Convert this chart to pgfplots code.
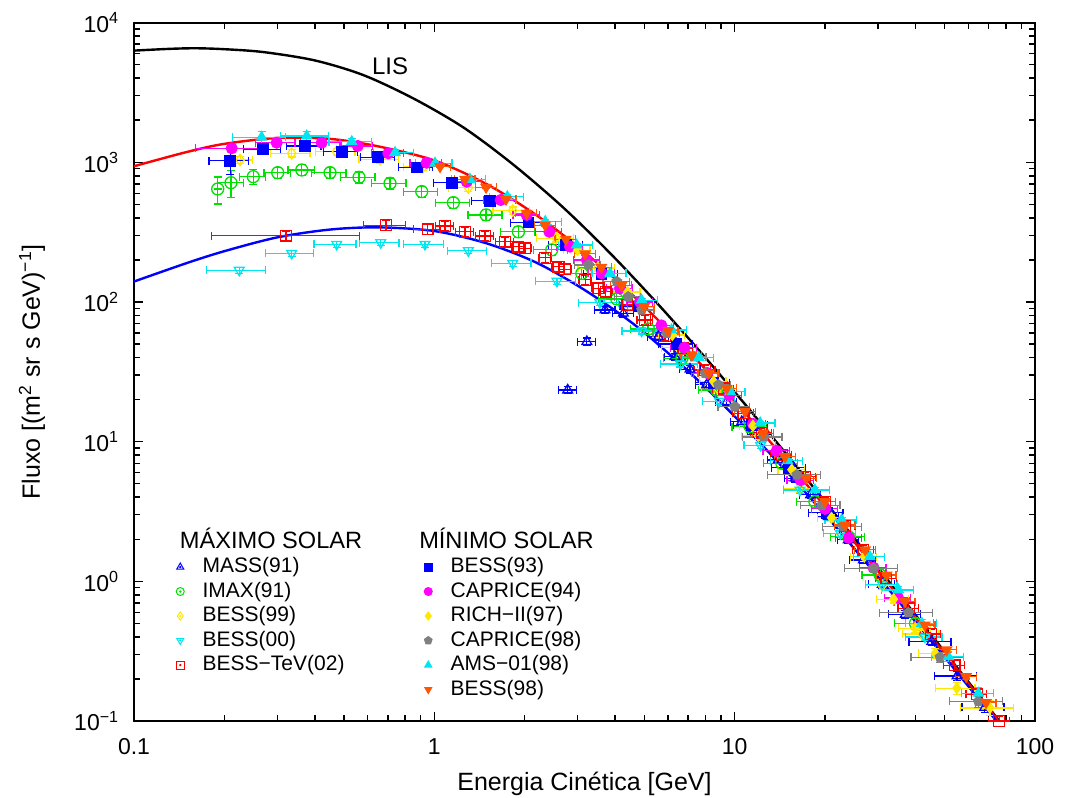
\documentclass[border=0pt]{standalone}
\usepackage{fontspec}
\setmainfont{Liberation Sans}
\usepackage{pgfplots}
\pgfplotsset{compat=1.18}
\usetikzlibrary{plotmarks}
\newcommand\ff{\fontsize{10.5bp}{12.6bp}\selectfont}
\newcommand\hf{\fontsize{11.8bp}{13bp}\selectfont}
\newcommand\tf{\fontsize{11.5bp}{13.8bp}\selectfont}
\newcommand\lf{\fontsize{12.5bp}{15bp}\selectfont}
\newcommand\lt[1]{\makebox[109.8bp][l]{#1}}
\definecolor{cBlue}{RGB}{0,0,255}
\definecolor{cGreen}{RGB}{0,225,0}
\definecolor{cYellow}{RGB}{255,232,0}
\definecolor{cCyan}{RGB}{0,230,240}
\definecolor{cRed}{RGB}{255,0,0}
\definecolor{cMag}{RGB}{255,0,255}
\definecolor{cGray}{RGB}{128,128,128}
\definecolor{cOrange}{RGB}{255,85,0}
\pgfplotsset{
  ser/.style={only marks, forget plot, line width=0.6bp,
    error bars/x dir=both, error bars/x explicit relative,
    error bars/y dir=both, error bars/y explicit relative,
    error bars/error bar style={line width=0.6bp},
    error bars/error mark options={rotate=90, line width=0.6bp, mark size=2bp}},
  openleg/.style n args={3}{legend image code/.code={\path[draw=none,fill=none] (-3bp,-1bp) rectangle (11.2bp,1bp); \draw[#1,line width=0.5bp,mark=#2,mark size=2bp,mark options={#3}] plot coordinates {(0bp,0bp)}; \fill[#1] (0bp,0bp) circle (0.35bp);}},
  fillleg/.style n args={3}{legend image code/.code={\path[draw=none,fill=none] (-3bp,-1bp) rectangle (11.2bp,1bp); \draw[#1,line width=0.5bp,mark=#2,mark size=2bp,mark options={#3}] plot coordinates {(0bp,0bp)};}},
  blankleg/.style={legend image code/.code={\path[draw=none,fill=none] (-3bp,-1bp) rectangle (11.2bp,1bp);}},
}
\begin{document}
\begin{tikzpicture}
\path[use as bounding box] (-67bp,-38.5bp) rectangle (466bp,360.5bp);
\begin{axis}[at={(0,0)}, anchor=south west, scale only axis,
  width=450.5bp, height=349.2bp,
  xmode=log, ymode=log, xmin=0.1, xmax=100, ymin=0.1, ymax=10000,
  xtick={0.1,1,10,100}, xticklabels={0.1,1,10,100},
  minor xtick={0.2,0.3,0.4,0.5,0.6,0.7,0.8,0.9,2,3,4,5,6,7,8,9,20,30,40,50,60,70,80,90},
  ytick={0.1,1,10,100,1000,10000},
  yticklabels={10\textsuperscript{−1},10\textsuperscript{0},10\textsuperscript{1},10\textsuperscript{2},10\textsuperscript{3},10\textsuperscript{4}},
  minor ytick={0.2,0.3,0.4,0.5,0.6,0.7,0.8,0.9,2,3,4,5,6,7,8,9,20,30,40,50,60,70,80,90,200,300,400,500,600,700,800,900,2000,3000,4000,5000,6000,7000,8000,9000},
  tick label style={font=\tf}, label style={font=\lf},
  xlabel={Energia Cinética [GeV]},
  ylabel={Fluxo [(m\textsuperscript{2} sr s GeV)\textsuperscript{−1}]},
  axis line style={line width=1bp},
  every tick/.style={black, line width=0.75bp},
  major tick length=4.7bp, minor tick length=3bp,
  xlabel style={at={(axis description cs:0.5,-0.0988)}, anchor=base},
  ylabel style={at={(axis description cs:-0.1132,0.5)}, anchor=center},
  xticklabel style={anchor=base, yshift=-16.5bp},
  yticklabel style={anchor=east, xshift=-3.9bp},
  legend columns=2, legend cell align=left,
  legend style={at={(axis description cs:0.0447,0.2731)}, anchor=north west,
    draw=none, fill=none, inner sep=0pt, outer sep=0pt, font=\ff,
    row sep=0pt, column sep=0pt,
    nodes={inner xsep=0pt, inner ysep=1bp, text height=8bp, text depth=2.25bp}},
]
% model curves
\addplot[black, line width=1.2bp, smooth, forget plot] coordinates {
(0.1,6300) (0.13,6480) (0.16,6550) (0.2,6450) (0.27,6150) (0.4,5360) (0.58,4210)
(0.85,2870) (1.25,1775) (1.83,964) (2.69,473) (3.95,211) (5.8,87.1) (8.5,34.2)
(12.5,12.79) (18.3,4.71) (26.9,1.678) (39.5,0.595) (58,0.209) (85,0.074) (100,0.0475)};
\addplot[cRed, line width=1.2bp, smooth, forget plot] coordinates {
(0.1,937) (0.15,1185) (0.2,1355) (0.3,1493) (0.45,1470) (0.65,1300) (1.0,1030)
(1.5,694) (2.2,414.6) (3.2,222.5) (4.7,105.9) (7,44.7) (10,19.43) (15,7.15)
(22,2.676) (33,0.920) (50,0.3032) (75,0.1017) (100,0.0468)};
\addplot[cBlue, line width=1.2bp, smooth, forget plot] coordinates {
(0.1,140) (0.15,190) (0.2,231) (0.3,290) (0.45,330) (0.65,342) (1.0,322)
(1.5,262) (2.2,190) (3.2,120) (4.7,67.2) (7,32.04) (10,15.16) (15,6.01)
(22,2.368) (33,0.8465) (50,0.2868) (75,0.098) (100,0.0455)};
% MASS(91)
\addplot[ser, color=cBlue, mark=triangle, mark size=2.8bp, mark options={solid,line width=0.65bp}] coordinates {
(2.78,23.4) +- (0.07,0.06) (3.22,52.0) +- (0.07,0.06) (3.70,87.7) +- (0.08,0.06)
(4.26,83.0) +- (0.08,0.06) (5.57,56.5) +- (0.08,0.06) (6.33,40.6) +- (0.08,0.06)
(7.10,33.0) +- (0.08,0.06) (8.07,25.5) +- (0.08,0.06) (9.40,19.3) +- (0.08,0.06)
(10.56,13.9) +- (0.08,0.06) (12.0,11.3) +- (0.08,0.06) (13.97,7.4) +- (0.08,0.06)
(15.9,5.47) +- (0.08,0.06) (17.9,4.16) +- (0.08,0.06) (20.5,2.90) +- (0.08,0.06)
(23.9,1.98) +- (0.08,0.06) (26.8,1.42) +- (0.1,0.06) (31.0,0.95) +- (0.1,0.06)
(37.0,0.58) +- (0.12,0.06) (45.3,0.37) +- (0.16,0.06) (55.0,0.21) +- (0.16,0.07)
(68.0,0.125) +- (0.16,0.08)};
% IMAX(91)
\addplot[ser, color=cGreen, mark=o, mark size=3bp, mark options={solid,line width=0.65bp}] coordinates {
(0.190,644) +- (0.0,0.22) (0.2104,714) +- (0.1,0.22) (0.2496,789) +- (0.1,0.12)
(0.301,843) +- (0.1,0.09) (0.362,881) +- (0.1,0.09) (0.4495,843) +- (0.13,0.09)
(0.5614,781) +- (0.13,0.09) (0.712,707) +- (0.13,0.09) (0.908,617) +- (0.13,0.09)
(1.157,514) +- (0.13,0.09) (1.487,420) +- (0.13,0.09) (1.905,318) +- (0.13,0.09)
(2.46,236) +- (0.13,0.09) (3.097,160) +- (0.13,0.09) (4.05,105) +- (0.13,0.09)
(5.16,64.1) +- (0.13,0.09) (6.67,39.5) +- (0.13,0.09) (8.72,23.4) +- (0.13,0.09)
(11.26,12.8) +- (0.13,0.09) (14.35,7.0) +- (0.13,0.09) (18.5,3.72) +- (0.13,0.09)
(23.9,2.09) +- (0.13,0.09) (30.5,1.11) +- (0.13,0.09) (40.0,0.50) +- (0.15,0.09)};
% BESS(99)
\addplot[ser, color=cYellow, mark=diamond, mark size=2.8bp, mark options={solid,line width=0.65bp}] coordinates {
(0.2256,1038) +- (0.1,0.06) (0.335,1159) +- (0.15,0.06) (0.473,1191) +- (0.15,0.06)
(0.66,1051) +- (0.15,0.06) (0.919,931) +- (0.14,0.06) (1.298,658) +- (0.14,0.06)
(1.824,451) +- (0.14,0.06) (2.543,286) +- (0.14,0.06) (3.5,175) +- (0.14,0.06)
(4.8,92) +- (0.12,0.06) (6.5,47) +- (0.12,0.06) (8.8,24) +- (0.12,0.06)
(12.0,11.0) +- (0.12,0.06) (16.5,4.6) +- (0.12,0.06) (22.5,2.2) +- (0.12,0.06)
(31.0,0.93) +- (0.12,0.06) (42.0,0.42) +- (0.14,0.06)};
% BESS(00)
\addplot[ser, color=cCyan, mark=triangle, mark size=2.8bp, mark options={solid,line width=0.65bp,rotate=180}] coordinates {
(0.224,169) +- (0.22,0.05) (0.335,223) +- (0.18,0.05) (0.473,259) +- (0.16,0.05)
(0.663,266) +- (0.15,0.05) (0.931,259) +- (0.15,0.05) (1.298,233) +- (0.15,0.05)
(1.824,189) +- (0.15,0.05) (2.56,141) +- (0.15,0.05) (3.56,98.9) +- (0.15,0.05)
(4.9,62) +- (0.14,0.05) (6.6,36) +- (0.14,0.05) (8.9,19.5) +- (0.12,0.05)
(12.2,9.4) +- (0.12,0.05) (16.5,4.5) +- (0.12,0.05) (22.5,2.2) +- (0.12,0.05)
(31.0,0.95) +- (0.12,0.05) (43.0,0.40) +- (0.14,0.06)};
% BESS-TeV(02)
\addplot[ser, color=cRed, mark=square, mark size=2.7bp, mark options={solid,line width=0.65bp}] coordinates {
(0.3206,298) += (0.756,0.08) -= (0.435,0.08)
(0.69,355) +- (0.16,0.08) (0.95,331) +- (0.1,0.08) (1.085,350) +- (0.07,0.08)
(1.265,318) +- (0.07,0.08) (1.475,297) +- (0.07,0.08) (1.72,270) +- (0.07,0.08)
(1.905,249) +- (0.05,0.08) (2.005,242) +- (0.05,0.08) (2.338,207) +- (0.05,0.08)
(2.59,179) +- (0.05,0.08) (2.72,171) +- (0.05,0.08) (3.177,144) +- (0.05,0.08)
(3.52,125) +- (0.05,0.08) (3.72,118.6) +- (0.05,0.08) (4.39,95.2) +- (0.06,0.08)
(5.03,74.3) +- (0.06,0.08) (5.86,57.1) +- (0.07,0.08) (6.75,46.6) +- (0.07,0.08)
(7.96,32.6) +- (0.08,0.08) (9.2,24.0) +- (0.08,0.08) (10.7,16.0) +- (0.08,0.08)
(12.3,11.6) +- (0.08,0.08) (14.35,8.03) +- (0.08,0.08) (17.2,5.62) +- (0.08,0.08)
(20.0,3.72) +- (0.08,0.08) (23.3,2.50) +- (0.08,0.08) (26.8,1.68) +- (0.08,0.08)
(32.0,1.05) +- (0.08,0.08) (38.0,0.64) +- (0.08,0.08) (45.0,0.42) +- (0.08,0.08)
(54.0,0.25) +- (0.08,0.08) (64.0,0.155) +- (0.08,0.08) (76.0,0.100) +- (0.08,0.08)};
% BESS(93)
\addplot[ser, color=cBlue, mark=square*, mark size=2.6bp, mark options={solid,line width=0.65bp}] coordinates {
(0.209,1026) +- (0.15,0.2) (0.2695,1239) +- (0.14,0.05) (0.371,1309) +- (0.13,0.03)
(0.4914,1191) +- (0.13,0.03) (0.651,1086) +- (0.13,0.03) (0.874,918) +- (0.13,0.03)
(1.145,714) +- (0.13,0.03) (1.533,531) +- (0.13,0.03) (2.06,370) +- (0.13,0.03)
(2.75,257) +- (0.13,0.03) (3.6,159) +- (0.13,0.03) (4.8,93) +- (0.13,0.03)
(6.4,50) +- (0.13,0.03) (8.5,26.4) +- (0.13,0.03) (11.4,13.1) +- (0.13,0.03)
(15.2,6.5) +- (0.13,0.04) (20.3,3.09) +- (0.13,0.05)};
% CAPRICE(94)
\addplot[ser, color=cMag, mark=*, mark size=2.7bp, mark options={solid,line width=0.65bp}] coordinates {
(0.2115,1260) +- (0.24,0.03) (0.2986,1381) +- (0.15,0.03) (0.4217,1381) +- (0.15,0.03)
(0.556,1309) +- (0.12,0.03) (0.703,1159) +- (0.12,0.03) (0.943,993) +- (0.12,0.03)
(1.282,726) +- (0.12,0.03) (1.664,537) +- (0.12,0.03) (2.03,420) +- (0.1,0.03)
(2.415,318) +- (0.1,0.03) (2.83,249) +- (0.1,0.03) (3.22,200) +- (0.1,0.03)
(3.61,160) +- (0.1,0.03) (4.15,125) +- (0.1,0.03) (4.84,100) +- (0.1,0.03)
(5.7,68) +- (0.1,0.03) (6.8,47) +- (0.1,0.03) (8.1,31) +- (0.1,0.03)
(9.6,21.5) +- (0.1,0.03) (11.5,13.4) +- (0.1,0.03) (13.8,8.6) +- (0.1,0.04)
(16.6,5.3) +- (0.1,0.04) (20.0,3.3) +- (0.1,0.05) (24.0,2.05) +- (0.1,0.05)
(29.0,1.25) +- (0.1,0.06) (35.0,0.76) +- (0.1,0.07)};
% RICH-II(97)
\addplot[ser, color=cYellow, mark=diamond*, mark size=2.6bp, mark options={solid,line width=0.65bp}] coordinates {
(3.0,235) +- (0.1,0.03) (4.4,118) +- (0.1,0.03) (6.2,58) +- (0.1,0.03)
(8.5,27) +- (0.1,0.03) (11.5,13.0) +- (0.1,0.04) (15.5,6.3) +- (0.1,0.04)
(21.0,2.85) +- (0.1,0.05) (27.0,1.5) +- (0.1,0.05) (33.8,0.745) +- (0.12,0.06)
(39.9,0.462) +- (0.12,0.07) (46.5,0.305) +- (0.12,0.08) (54.9,0.172) +- (0.15,0.1)
(70.8,0.124) +- (0.2,0.12)};
% CAPRICE(98)
\addplot[ser, color=cGray, mark=pentagon*, mark size=2.5bp, mark options={solid,line width=0.65bp}] coordinates {
(3.26,184) +- (0.1,0.03) (4.05,140) +- (0.1,0.03) (4.42,109) +- (0.1,0.03)
(4.9,87.7) +- (0.1,0.03) (5.94,59.7) +- (0.1,0.03) (7.3,40.6) +- (0.1,0.03)
(7.98,30.9) +- (0.1,0.03) (8.83,25.5) +- (0.1,0.03) (10.0,17.8) +- (0.12,0.03)
(12.5,10.8) +- (0.15,0.03) (16.1,5.78) +- (0.2,0.04) (19.5,3.5) +- (0.15,0.04)
(23.0,2.46) +- (0.15,0.05) (29.0,1.24) +- (0.2,0.05) (37.9,0.597) +- (0.2,0.06)
(48.3,0.286) +- (0.2,0.08) (64.8,0.138) +- (0.2,0.1)};
% AMS-01(98)
\addplot[ser, color=cCyan, mark=triangle*, mark size=2.8bp, mark options={solid,line width=0.65bp}] coordinates {
(0.266,1510) +- (0.2,0.1) (0.376,1542) +- (0.18,0.08) (0.531,1403) +- (0.16,0.05)
(0.740,1172) +- (0.15,0.04) (1.005,984) +- (0.14,0.03) (1.314,755) +- (0.13,0.03)
(1.75,567) +- (0.13,0.03) (2.34,376) +- (0.13,0.03) (2.98,256) +- (0.13,0.03)
(3.85,160) +- (0.13,0.03) (4.9,103) +- (0.13,0.03) (6.16,63) +- (0.12,0.03)
(7.6,40) +- (0.12,0.03) (9.67,22.8) +- (0.12,0.03) (12.16,13.6) +- (0.12,0.03)
(15.0,7.3) +- (0.12,0.03) (18.5,4.51) +- (0.12,0.04) (22.7,2.75) +- (0.12,0.04)
(28.2,1.50) +- (0.12,0.05) (35.1,0.868) +- (0.12,0.06) (42.0,0.50) +- (0.12,0.07)
(51.5,0.289) +- (0.12,0.08) (64.8,0.158) +- (0.12,0.1)};
% BESS(98)
\addplot[ser, color=cOrange, mark=triangle*, mark size=2.8bp, mark options={solid,line width=0.65bp,rotate=180}] coordinates {
(1.045,931) +- (0.08,0.02) (1.265,755) +- (0.08,0.02) (1.487,662) +- (0.08,0.02)
(1.733,543) +- (0.08,0.02) (2.03,431) +- (0.08,0.02) (2.338,355) +- (0.08,0.02)
(2.74,281) +- (0.08,0.02) (3.177,221) +- (0.08,0.02) (3.6,177) +- (0.08,0.02)
(4.2,131.5) +- (0.08,0.02) (5.0,92.7) +- (0.08,0.02) (6.0,62.4) +- (0.08,0.02)
(7.2,41.8) +- (0.08,0.02) (8.2,31.0) +- (0.08,0.02) (9.41,24.1) +- (0.08,0.02)
(10.83,16.4) +- (0.08,0.02) (12.46,11.5) +- (0.08,0.02) (14.72,7.81) +- (0.08,0.02)
(17.29,5.47) +- (0.08,0.03) (20.0,3.72) +- (0.08,0.03) (23.3,2.53) +- (0.08,0.03)
(27.2,1.68) +- (0.08,0.03) (32.1,1.11) +- (0.08,0.03) (36.9,0.716) +- (0.08,0.03)
(43.0,0.487) +- (0.08,0.04) (50.8,0.323) +- (0.08,0.04) (59.0,0.208) +- (0.08,0.04)
(68.7,0.1355) +- (0.08,0.05)};
\node[font=\fontsize{12bp}{14bp}\selectfont] at (axis cs:0.712,4890) {LIS};
% legend
\addlegendimage{blankleg}\addlegendentry{\lt{\hspace{-11.35bp}\hf MÁXIMO SOLAR}}
\addlegendimage{blankleg}\addlegendentry{\lt{\hspace{-15.7bp}\hf MÍNIMO SOLAR}}
\addlegendimage{openleg={cBlue}{triangle}{}}\addlegendentry{\lt{MASS(91)}}
\addlegendimage{fillleg={cBlue}{square*}{}}\addlegendentry{\lt{BESS(93)}}
\addlegendimage{openleg={cGreen}{o}{}}\addlegendentry{\lt{IMAX(91)}}
\addlegendimage{fillleg={cMag}{*}{}}\addlegendentry{\lt{CAPRICE(94)}}
\addlegendimage{openleg={cYellow}{diamond}{}}\addlegendentry{\lt{BESS(99)}}
\addlegendimage{fillleg={cYellow}{diamond*}{}}\addlegendentry{\lt{RICH−II(97)}}
\addlegendimage{openleg={cCyan}{triangle}{rotate=180}}\addlegendentry{\lt{BESS(00)}}
\addlegendimage{fillleg={cGray}{pentagon*}{}}\addlegendentry{\lt{CAPRICE(98)}}
\addlegendimage{openleg={cRed}{square}{}}\addlegendentry{\lt{BESS−TeV(02)}}
\addlegendimage{fillleg={cCyan}{triangle*}{}}\addlegendentry{\lt{AMS−01(98)}}
\addlegendimage{blankleg}\addlegendentry{\lt{}}
\addlegendimage{fillleg={cOrange}{triangle*}{rotate=180}}\addlegendentry{\lt{BESS(98)}}
\end{axis}
\end{tikzpicture}
\end{document}
